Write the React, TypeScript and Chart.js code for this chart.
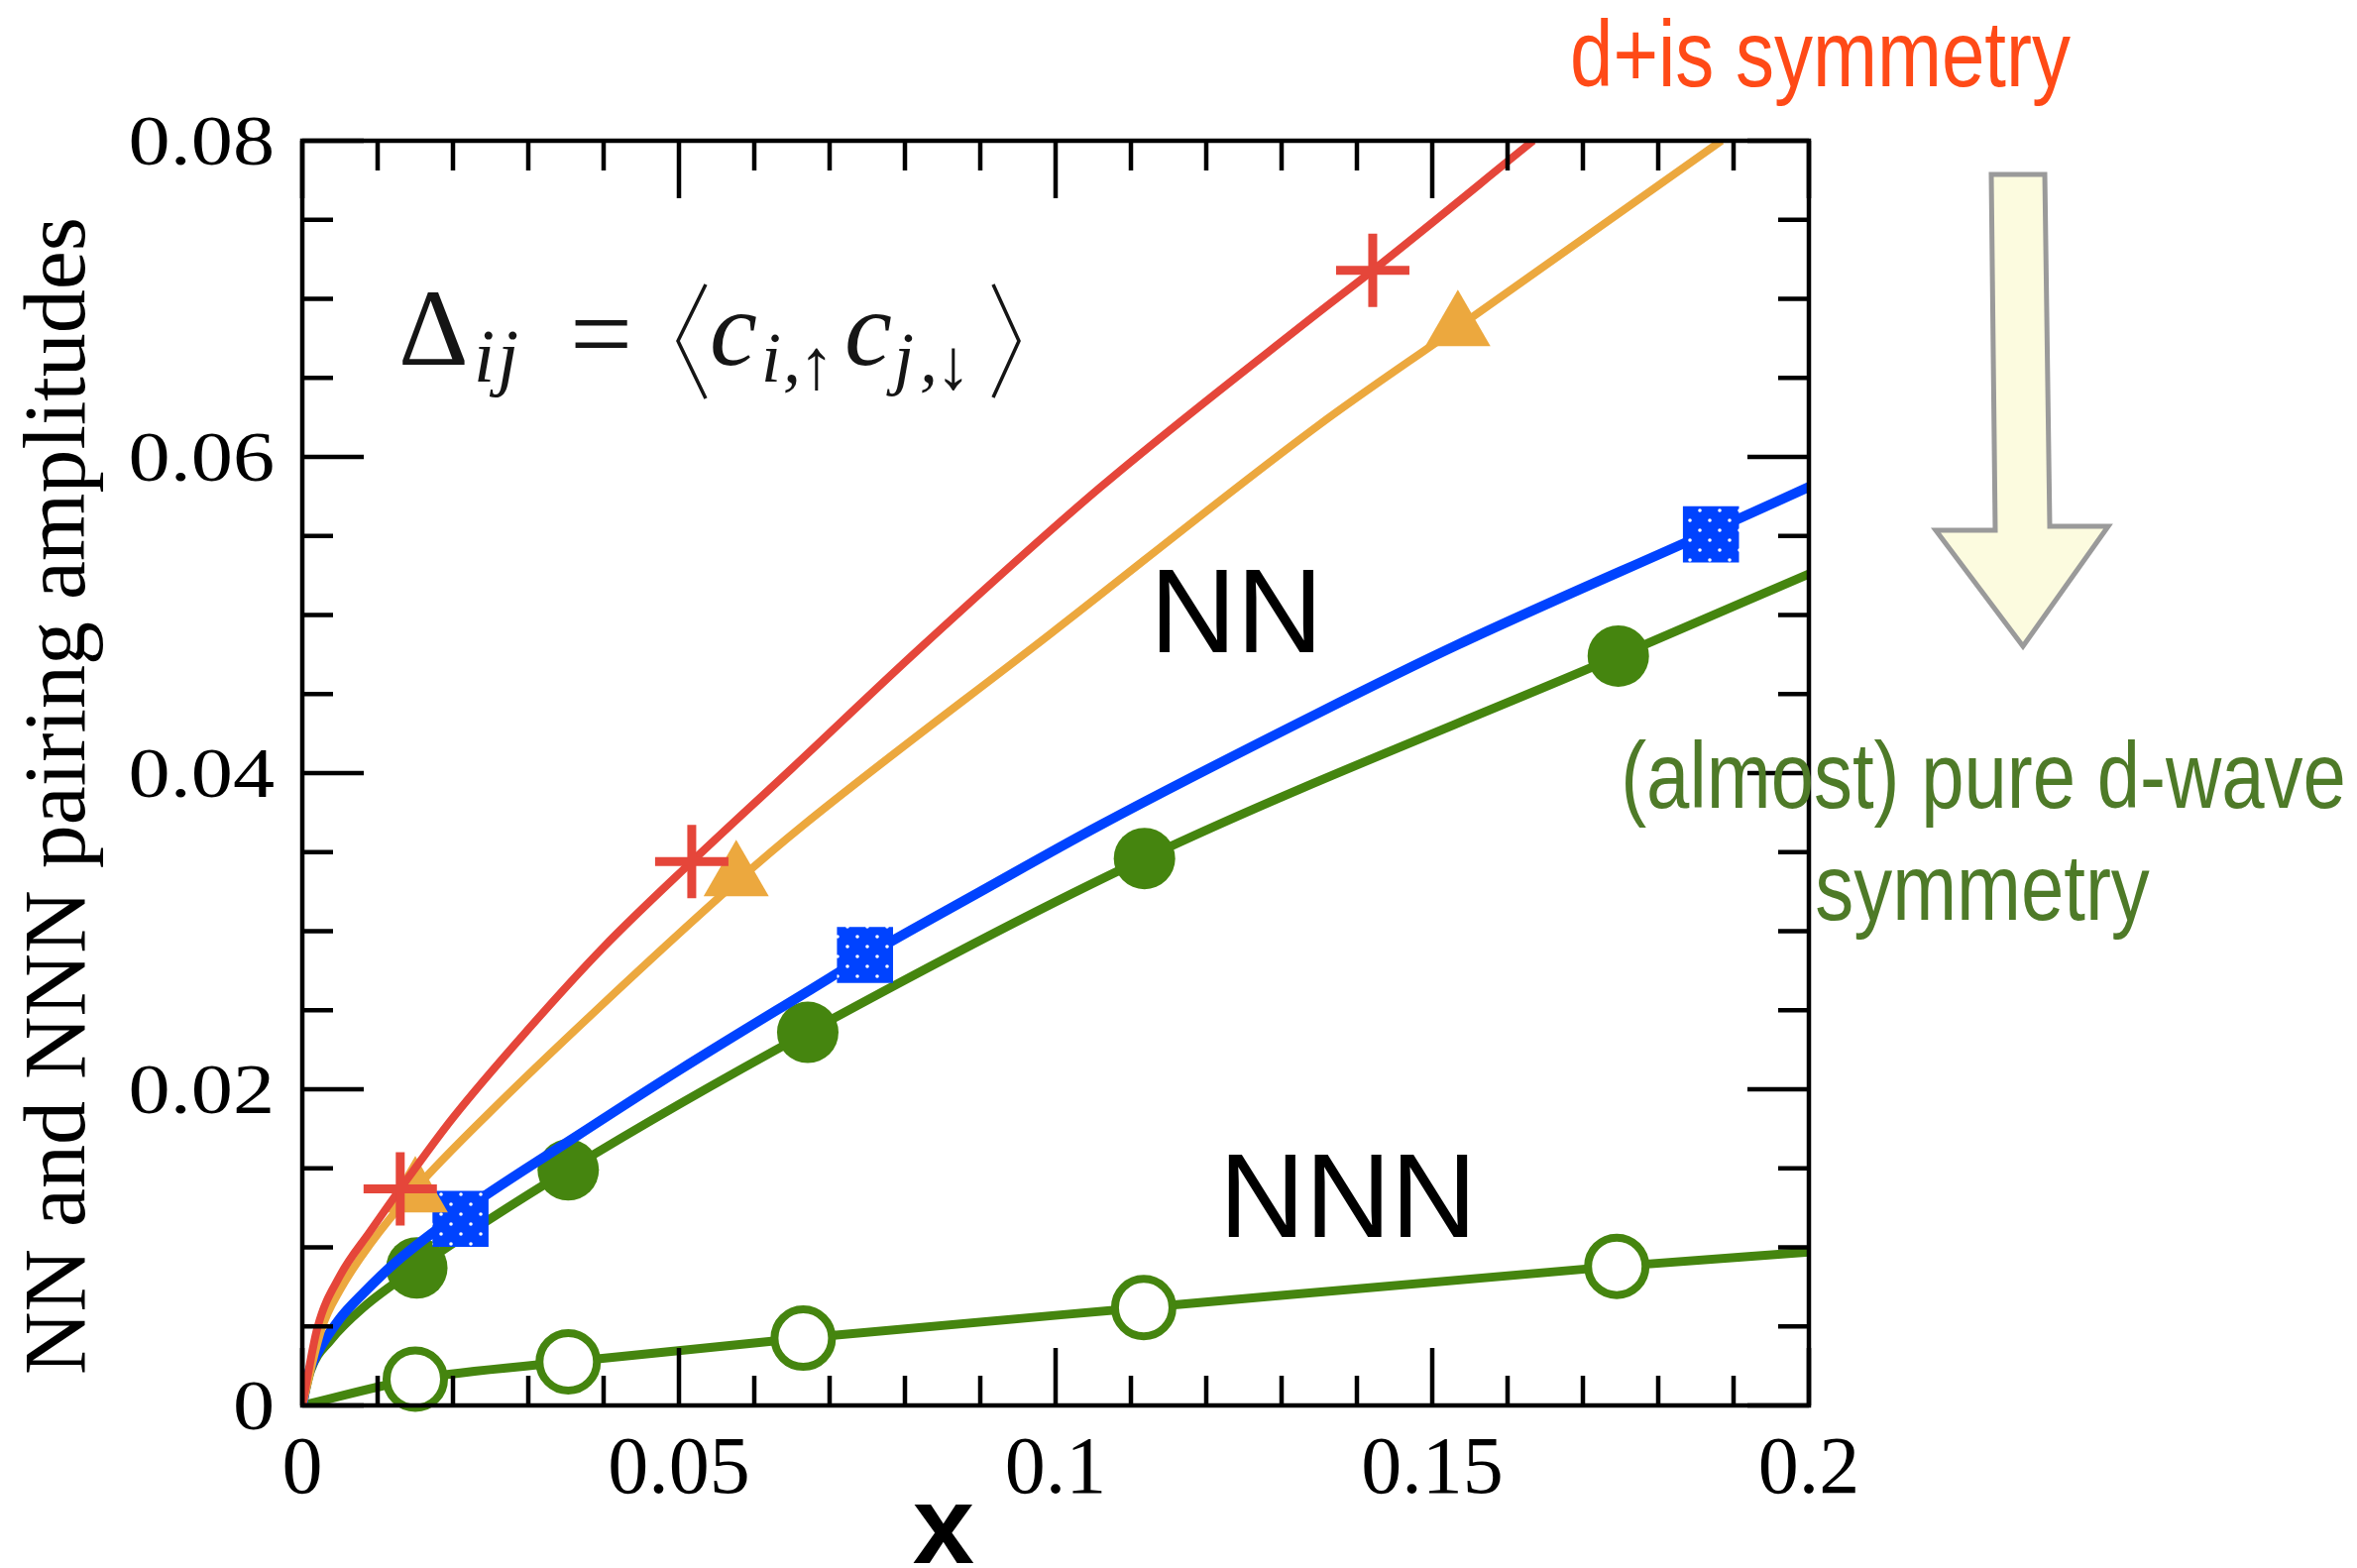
import React, { useEffect, useRef } from "react";
import { Chart, registerables } from "chart.js";

Chart.register(...registerables);

// ---------- data ----------
// fitted curves
const RED_CURVE_X = [0, 0.002, 0.005, 0.009, 0.013, 0.02, 0.03, 0.04, 0.0517, 0.065, 0.082, 0.106, 0.134, 0.1421, 0.1634];
const RED_CURVE_Y = [0, 0.0049, 0.0082, 0.011, 0.0137, 0.0182, 0.0238, 0.029, 0.0344, 0.0403, 0.0479, 0.0581, 0.0688, 0.0718, 0.08];
const ORANGE_CURVE_X = [0, 0.0026, 0.005, 0.009, 0.015, 0.025, 0.0388, 0.0576, 0.0665, 0.0993, 0.1349, 0.1534, 0.1884];
const ORANGE_CURVE_Y = [0, 0.0049, 0.0073, 0.0102, 0.0137, 0.0186, 0.0249, 0.0331, 0.0367, 0.0488, 0.062, 0.0682, 0.08];
const BLUE_CURVE_X = [0, 0.0007, 0.002, 0.005, 0.0081, 0.0125, 0.021, 0.035, 0.05, 0.0678, 0.0747, 0.09, 0.1059, 0.1349, 0.1533, 0.187, 0.2];
const BLUE_CURVE_Y = [0, 0.0018, 0.0033, 0.0055, 0.0071, 0.0091, 0.0122, 0.0166, 0.0212, 0.0264, 0.0284, 0.0325, 0.0367, 0.0438, 0.0481, 0.0553, 0.0581];
const GREEN_CURVE_X = [0, 0.0011, 0.0037, 0.0081, 0.0152, 0.0353, 0.0671, 0.1118, 0.1747, 0.2];
const GREEN_CURVE_Y = [0, 0.0022, 0.0041, 0.0062, 0.0087, 0.0149, 0.0236, 0.0346, 0.0474, 0.0526];
const NNN_CURVE_X = [0, 0.015, 0.0353, 0.0665, 0.1117, 0.1745, 0.2];
const NNN_CURVE_Y = [0, 0.00166, 0.00276, 0.00426, 0.00619, 0.0088, 0.0097];

// data points (markers)
const RED_PTS_X = [0.013, 0.0517, 0.1421];
const RED_PTS_Y = [0.0137, 0.0344, 0.0718];
const ORANGE_PTS_X = [0.015, 0.0576, 0.1534];
const ORANGE_PTS_Y = [0.0134, 0.0334, 0.0682];
const BLUE_PTS_X = [0.021, 0.0747, 0.187];
const BLUE_PTS_Y = [0.0118, 0.0285, 0.0551];
const GREEN_PTS_X = [0.0152, 0.0353, 0.0671, 0.1118, 0.1747];
const GREEN_PTS_Y = [0.0087, 0.0149, 0.0236, 0.0346, 0.0474];
const NNN_PTS_X = [0.015, 0.0353, 0.0665, 0.1117, 0.1745];
const NNN_PTS_Y = [0.00166, 0.00276, 0.00426, 0.00619, 0.0088];

// axes
const X_MIN = 0, X_MAX = 0.2, Y_MIN = 0, Y_MAX = 0.08;
const X_TICKS = [0, 0.05, 0.1, 0.15, 0.2];
const X_TICK_LABELS = ["0", "0.05", "0.1", "0.15", "0.2"];
const Y_TICKS = [0, 0.02, 0.04, 0.06, 0.08];
const Y_TICK_LABELS = ["0", "0.02", "0.04", "0.06", "0.08"];
const X_MINOR_STEP = 0.01;
const Y_MINOR_STEP = 0.005;

const X_TITLE = "x";
const Y_TITLE = "NN and NNN pairing amplitudes";
const LABEL_NN = "NN";
const LABEL_NNN = "NNN";
const LABEL_DIS = "d+is symmetry";
const LABEL_DWAVE = ["(almost) pure d-wave", "symmetry"];

// ---------- styles ----------
const RED = "#e5463a";
const ORANGE = "#eca83e";
const BLUE = "#0043ff";
const GREEN = "#45850f";
const SERIF = "'Liberation Serif', 'DejaVu Serif', serif";
const SANS = "'Liberation Sans', Arial, sans-serif";

const pts = (xs: number[], ys: number[]) => xs.map((x, i) => ({ x, y: ys[i] }));

export default function App() {
  const ref = useRef<HTMLCanvasElement>(null);

  useEffect(() => {
    document.body.style.margin = "0";
    document.body.style.overflow = "hidden";
    const canvas = ref.current!;
    const ctx = canvas.getContext("2d")!;

    const tile = document.createElement("canvas");
    tile.width = 20;
    tile.height = 20;
    const tctx = tile.getContext("2d")!;
    tctx.fillStyle = BLUE;
    tctx.fillRect(0, 0, 20, 20);
    tctx.fillStyle = "#ffffff";
    tctx.beginPath();
    tctx.arc(5, 5, 1.8, 0, Math.PI * 2);
    tctx.fill();
    tctx.beginPath();
    tctx.arc(15, 15, 1.8, 0, Math.PI * 2);
    tctx.fill();
    const pattern = ctx.createPattern(tile, "repeat")!;

    const curve = (data: any[], color: string, width: number, order: number) => ({
      data,
      showLine: true,
      borderColor: color,
      borderWidth: width,
      pointRadius: 0,
      pointHoverRadius: 0,
      cubicInterpolationMode: "monotone",
      fill: false,
      order,
    });

    const bgPlugin = {
      id: "bg",
      beforeDraw(chart: any) {
        const c = chart.ctx;
        c.save();
        c.fillStyle = "#ffffff";
        c.fillRect(0, 0, chart.width, chart.height);
        c.restore();
      },
    };

    const decoPlugin = {
      id: "deco",
      afterDatasetsDraw(chart: any) {
        const c: CanvasRenderingContext2D = chart.ctx;
        const a = chart.chartArea;
        const xs = chart.scales.x;
        const ys = chart.scales.y;
        c.save();
        // frame
        c.strokeStyle = "#000";
        c.lineWidth = 4.5;
        c.strokeRect(a.left, a.top, a.right - a.left, a.bottom - a.top);
        // ticks (inward, on all four sides)
        c.beginPath();
        const nx = Math.round((X_MAX - X_MIN) / X_MINOR_STEP);
        for (let i = 0; i <= nx; i++) {
          const v = X_MIN + i * X_MINOR_STEP;
          const px = xs.getPixelForValue(v);
          const len = i % 5 === 0 ? 58 : 30;
          c.moveTo(px, a.bottom);
          c.lineTo(px, a.bottom - len);
          c.moveTo(px, a.top);
          c.lineTo(px, a.top + len);
        }
        const ny = Math.round((Y_MAX - Y_MIN) / Y_MINOR_STEP);
        for (let i = 0; i <= ny; i++) {
          const v = Y_MIN + i * Y_MINOR_STEP;
          const py = ys.getPixelForValue(v);
          const len = i % 4 === 0 ? 62 : 31;
          c.moveTo(a.left, py);
          c.lineTo(a.left + len, py);
          c.moveTo(a.right, py);
          c.lineTo(a.right - len, py);
        }
        c.stroke();

        // tick labels
        c.fillStyle = "#000";
        c.textBaseline = "alphabetic";
        c.font = `82px ${SERIF}`;
        c.textAlign = "center";
        X_TICKS.forEach((v, i) => {
          c.fillText(X_TICK_LABELS[i], xs.getPixelForValue(v), a.bottom + 88);
        });
        c.font = `72px ${SERIF}`;
        c.textAlign = "right";
        Y_TICKS.forEach((v, i) => {
          const py = ys.getPixelForValue(v);
          c.save();
          c.translate(277, py + 24);
          c.scale(1.17, 1);
          c.fillText(Y_TICK_LABELS[i], 0, 0);
          c.restore();
        });

        // axis titles
        c.font = `bold 112px ${SANS}`;
        c.textAlign = "center";
        c.fillText(X_TITLE, 952, 1577);
        c.save();
        c.translate(85, 803);
        c.rotate(-Math.PI / 2);
        c.font = `88px ${SERIF}`;
        c.textAlign = "center";
        c.fillText(Y_TITLE, 0, 0);
        c.restore();

        // formula  Δ_ij = <c_{i,↑} c_{j,↓}>
        c.fillStyle = "#151515";
        c.textAlign = "left";
        c.font = `110px ${SERIF}`;
        c.fillText("Δ", 402, 368);
        c.font = `italic 76px ${SERIF}`;
        c.fillText("i", 478, 385);
        c.fillText("j", 502, 385);
        c.font = `112px ${SERIF}`;
        c.fillText("=", 575, 374);
        c.font = `italic 108px ${SERIF}`;
        c.fillText("c", 716, 368);
        c.font = `italic 72px ${SERIF}`;
        c.fillText("i", 768, 385);
        c.fillText(",", 790, 385);
        c.font = `72px ${SERIF}`;
        c.fillText("↑", 806, 392);
        c.font = `italic 108px ${SERIF}`;
        c.fillText("c", 852, 368);
        c.font = `italic 72px ${SERIF}`;
        c.fillText("j", 902, 385);
        c.fillText(",", 928, 385);
        c.font = `72px ${SERIF}`;
        c.fillText("↓", 944, 392);
        c.strokeStyle = "#151515";
        c.lineWidth = 3.5;
        c.beginPath();
        c.moveTo(712, 287);
        c.lineTo(684, 344);
        c.lineTo(712, 402);
        c.moveTo(1002, 287);
        c.lineTo(1028, 344);
        c.lineTo(1002, 401);
        c.stroke();

        // NN / NNN labels
        c.fillStyle = "#000";
        c.font = `121px ${SANS}`;
        c.fillText(LABEL_NN, 1160, 658);
        c.font = `120px ${SANS}`;
        c.fillText(LABEL_NNN, 1230, 1248);
        c.restore();
      },
      afterDraw(chart: any) {
        const c: CanvasRenderingContext2D = chart.ctx;
        c.save();
        // red annotation
        c.fillStyle = "#ff4a17";
        c.font = `94px ${SANS}`;
        c.textAlign = "left";
        c.textBaseline = "alphabetic";
        c.save();
        c.translate(1584, 87);
        c.scale(0.83, 1);
        c.fillText(LABEL_DIS, 0, 0);
        c.restore();
        // arrow
        c.beginPath();
        c.moveTo(2009, 176);
        c.lineTo(2063, 176);
        c.lineTo(2068, 531);
        c.lineTo(2127, 531);
        c.lineTo(2041, 652);
        c.lineTo(1953, 535);
        c.lineTo(2013, 535);
        c.closePath();
        c.fillStyle = "#fcfbdf";
        c.fill();
        c.strokeStyle = "#9a9a9a";
        c.lineWidth = 5;
        c.lineJoin = "miter";
        c.stroke();
        // green annotation
        c.fillStyle = "#4e7a28";
        c.font = `95px ${SANS}`;
        c.textAlign = "center";
        c.save();
        c.translate(2001, 815);
        c.scale(0.82, 1);
        c.fillText(LABEL_DWAVE[0], 0, 0);
        c.restore();
        c.save();
        c.translate(2000, 928);
        c.scale(0.82, 1);
        c.fillText(LABEL_DWAVE[1], 0, 0);
        c.restore();
        c.restore();
      },
    };

    const chart = new Chart(ctx, {
      type: "scatter",
      data: {
        datasets: [
          {
            data: pts(RED_PTS_X, RED_PTS_Y),
            pointStyle: "cross",
            pointRadius: 37,
            pointBorderWidth: 9,
            pointBorderColor: RED,
            pointBackgroundColor: RED,
            showLine: false,
            clip: false,
            order: 1,
          },
          curve(pts(RED_CURVE_X, RED_CURVE_Y), RED, 8, 2),
          {
            data: pts(ORANGE_PTS_X, ORANGE_PTS_Y),
            pointStyle: "triangle",
            pointRadius: 38,
            pointBorderWidth: 0,
            pointBackgroundColor: ORANGE,
            pointBorderColor: ORANGE,
            showLine: false,
            clip: false,
            order: 3,
          },
          curve(pts(ORANGE_CURVE_X, ORANGE_CURVE_Y), ORANGE, 8, 4),
          {
            data: pts(BLUE_PTS_X, BLUE_PTS_Y),
            pointStyle: "rect",
            pointRadius: 40,
            pointBorderWidth: 0,
            pointBackgroundColor: pattern,
            pointBorderColor: BLUE,
            showLine: false,
            clip: false,
            order: 5,
          },
          curve(pts(BLUE_CURVE_X, BLUE_CURVE_Y), BLUE, 10, 6),
          {
            data: pts(GREEN_PTS_X, GREEN_PTS_Y),
            pointStyle: "circle",
            pointRadius: 31,
            pointBorderWidth: 0,
            pointBackgroundColor: GREEN,
            pointBorderColor: GREEN,
            showLine: false,
            clip: false,
            order: 7,
          },
          curve(pts(GREEN_CURVE_X, GREEN_CURVE_Y), GREEN, 9, 8),
          {
            data: pts(NNN_PTS_X, NNN_PTS_Y),
            pointStyle: "circle",
            pointRadius: 29,
            pointBorderWidth: 8,
            pointBackgroundColor: "#ffffff",
            pointBorderColor: GREEN,
            showLine: false,
            clip: false,
            order: 9,
          },
          curve(pts(NNN_CURVE_X, NNN_CURVE_Y), GREEN, 9, 10),
        ] as any,
      },
      options: {
        animation: false,
        responsive: false,
        devicePixelRatio: 1,
        events: [],
        layout: { padding: { left: 305, top: 142, right: 2378 - 1825, bottom: 1582 - 1418 } },
        plugins: { legend: { display: false }, tooltip: { enabled: false }, title: { display: false } },
        scales: {
          x: { type: "linear", min: X_MIN, max: X_MAX, display: false },
          y: { type: "linear", min: Y_MIN, max: Y_MAX, display: false },
        },
      } as any,
      plugins: [bgPlugin, decoPlugin],
    });

    return () => chart.destroy();
  }, []);

  return (
    <div style={{ position: "absolute", left: 0, top: 0, width: 2378, height: 1582, background: "#fff" }}>
      <canvas ref={ref} width={2378} height={1582} style={{ display: "block", width: 2378, height: 1582 }} />
    </div>
  );
}
